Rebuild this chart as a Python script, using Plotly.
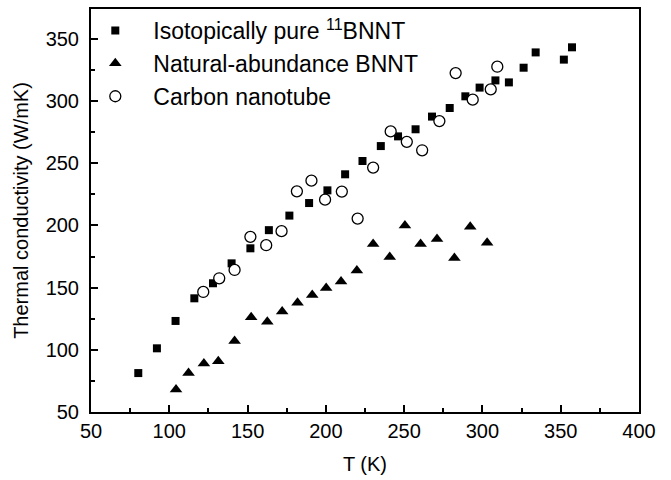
import plotly.graph_objects as go

# Isotopically pure 11BNNT (squares)
iso_T = [80.2, 92.1, 104.0, 116.0, 127.9, 139.8, 151.8, 163.6, 176.7, 189.3,
         201.0, 212.3, 223.4, 235.1, 246.1, 257.3, 267.8, 279.1, 289.1, 298.2,
         308.3, 316.9, 326.3, 334.0, 352.0, 357.2]
iso_k = [81.3, 101.2, 123.2, 141.4, 153.5, 169.5, 181.6, 196.2, 207.9, 218.0,
         228.2, 241.1, 251.8, 263.8, 271.6, 277.3, 287.5, 294.4, 303.8, 310.8,
         316.6, 315.0, 326.8, 339.1, 333.3, 343.2]

# Natural-abundance BNNT (triangles)
nat_T = [104.3, 112.3, 122.1, 131.3, 141.7, 152.3, 162.6, 172.1, 181.9, 191.3,
         200.2, 209.7, 219.8, 230.2, 240.8, 250.5, 260.5, 271.0, 282.1, 292.2, 303.0]
nat_k = [68.0, 81.3, 88.9, 90.8, 107.1, 126.1, 122.6, 130.7, 137.8, 144.1,
         149.7, 155.0, 163.8, 185.0, 174.6, 200.0, 185.0, 189.0, 173.8, 199.0, 186.0]

# Carbon nanotube (open circles)
cnt_T = [121.7, 131.9, 141.7, 151.8, 161.9, 171.7, 181.5, 190.8, 199.5, 210.2,
         220.3, 230.2, 241.4, 251.7, 261.5, 272.5, 282.9, 293.8, 305.3, 309.5]
cnt_k = [146.5, 157.5, 164.2, 190.8, 184.1, 195.4, 227.4, 236.0, 220.7, 227.2,
         205.5, 246.5, 275.6, 267.2, 260.4, 283.9, 322.5, 301.1, 309.4, 327.6]

names = ["Isotopically pure <sup>11</sup>BNNT", "Natural-abundance BNNT", "Carbon nanotube"]
x_ticks = [50, 100, 150, 200, 250, 300, 350, 400]
y_ticks = [50, 100, 150, 200, 250, 300, 350]

FONT = "Arial, 'Liberation Sans', sans-serif"

fig = go.Figure()
fig.add_trace(go.Scatter(x=iso_T, y=iso_k, mode="markers", name=names[0],
                         marker=dict(symbol="square", size=8, color="black",
                                     line=dict(width=0))))
fig.add_trace(go.Scatter(x=nat_T, y=nat_k, mode="markers", name=names[1],
                         marker=dict(symbol="triangle-up", size=11, color="black",
                                     line=dict(width=0))))
fig.add_trace(go.Scatter(x=cnt_T, y=cnt_k, mode="markers", name=names[2],
                         marker=dict(symbol="circle", size=11, color="white",
                                     line=dict(width=1.3, color="black"))))

axis_common = dict(showline=True, linecolor="black", linewidth=2, mirror=True,
                   ticks="inside", ticklen=7, tickwidth=2, tickcolor="black",
                   showgrid=False, zeroline=False,
                   tickfont=dict(family=FONT, size=20, color="black"),
                   title_font=dict(family=FONT, size=20, color="black"))

fig.update_xaxes(range=[50, 400], tickvals=x_ticks, ticklabelstandoff=0,
                 minor=dict(ticks="inside", ticklen=4, tickwidth=1.5, dtick=25,
                            tickcolor="black", tick0=50),
                 title=dict(text="T (K)", standoff=16), **axis_common)
fig.update_yaxes(range=[50, 374], tickvals=y_ticks, ticklabelstandoff=6,
                 minor=dict(ticks="inside", ticklen=4, tickwidth=1.5, dtick=25,
                            tickcolor="black", tick0=50),
                 title=dict(text="Thermal conductivity (W/mK)", standoff=12), **axis_common)

fig.update_layout(
    width=671, height=480,
    margin=dict(l=91, r=32, t=9, b=68, autoexpand=False),
    paper_bgcolor="white", plot_bgcolor="white",
    font=dict(family=FONT, size=20, color="black"),
    showlegend=True,
    legend=dict(x=-0.025, y=1.0, xanchor="left", yanchor="top",
                bgcolor="rgba(0,0,0,0)", borderwidth=0,
                font=dict(family=FONT, size=23, color="black"),
                itemsizing="trace", itemwidth=66),
)

fig.write_html("out.html", config={"displayModeBar": False},
               post_script="document.body.style.margin='0';")
